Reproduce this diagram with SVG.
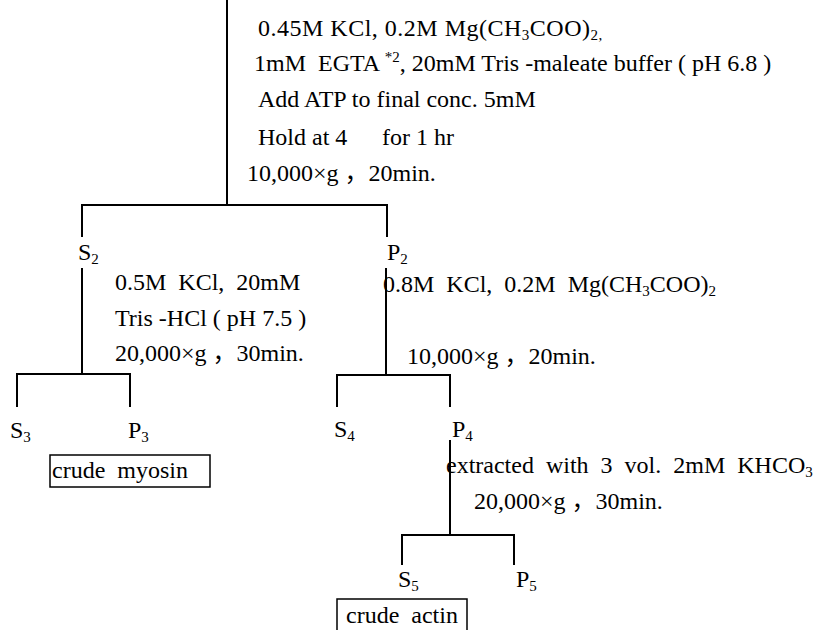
<svg xmlns="http://www.w3.org/2000/svg" width="815" height="630" viewBox="0 0 815 630" xml:space="preserve">
<style>
text{font-family:"Liberation Serif","Noto Sans CJK SC",serif;font-size:24px;fill:#000;white-space:pre}
.sub{font-size:15px}
.sup{font-size:15px}
.ln{stroke:#000;stroke-width:2;fill:none}
.box{stroke:#000;stroke-width:1.5;fill:#fff}
</style>
<rect width="815" height="630" fill="#fff"/>
<g id="connectors">
<path class="ln" d="M227 0V205M82 237V205H387V237"/>
<path class="ln" d="M82 268V374M17 407V374H130V407"/>
<path class="ln" d="M386 268V375M337 407V375H450V407"/>
<path class="ln" d="M450 440V535M402 565V535H514V565"/>
</g>
<g id="step1">
<text x="258" y="36" letter-spacing="0.5">0.45M KCl, 0.2M Mg(CH<tspan class="sub" dy="4">3</tspan><tspan dy="-4">COO)</tspan><tspan class="sub" dy="4">2,</tspan></text>
<text x="254" y="71">1mM  EGTA <tspan class="sup" dy="-9">*2</tspan><tspan dy="9">, 20mM Tris -maleate buffer ( pH 6.8 )</tspan></text>
<text x="258" y="107">Add ATP to final conc. 5mM</text>
<text x="258" y="145">Hold at 4</text>
<text x="382" y="145">for 1 hr</text>
<text x="247" y="181">10,000×g ，20min.</text>
</g>
<g id="S2"><text x="78" y="260">S<tspan class="sub" dy="4">2</tspan></text></g>
<g id="P2"><text x="387" y="260">P<tspan class="sub" dy="4">2</tspan></text></g>
<g id="step2">
<text x="115" y="290">0.5M  KCl,  20mM</text>
<text x="115" y="326">Tris -HCl ( pH 7.5 )</text>
<text x="115" y="361">20,000×g ，30min.</text>
</g>
<g id="step3">
<text x="383" y="292">0.8M  KCl,  0.2M  Mg(CH<tspan class="sub" dy="4">3</tspan><tspan dy="-4">COO)</tspan><tspan class="sub" dy="4">2</tspan></text>
<text x="407" y="364">10,000×g ，20min.</text>
</g>
<g id="S3"><text x="10" y="438">S<tspan class="sub" dy="4">3</tspan></text></g>
<g id="P3"><text x="128" y="438">P<tspan class="sub" dy="4">3</tspan></text></g>
<g id="crude-myosin"><rect class="box" x="50" y="455" width="160" height="32"/><text x="52" y="478">crude  myosin</text></g>
<g id="S4"><text x="334" y="437">S<tspan class="sub" dy="4">4</tspan></text></g>
<g id="P4"><text x="452" y="437">P<tspan class="sub" dy="4">4</tspan></text></g>
<g id="step4">
<text x="446" y="473">extracted  with  3  vol.  2mM  KHCO<tspan class="sub" dy="4">3</tspan></text>
<text x="474" y="509">20,000×g ，30min.</text>
</g>
<g id="S5"><text x="398" y="587">S<tspan class="sub" dy="4">5</tspan></text></g>
<g id="P5"><text x="516" y="587">P<tspan class="sub" dy="4">5</tspan></text></g>
<g id="crude-actin"><rect class="box" x="337" y="599" width="130" height="35"/><text x="346" y="623">crude  actin</text></g>
</svg>
